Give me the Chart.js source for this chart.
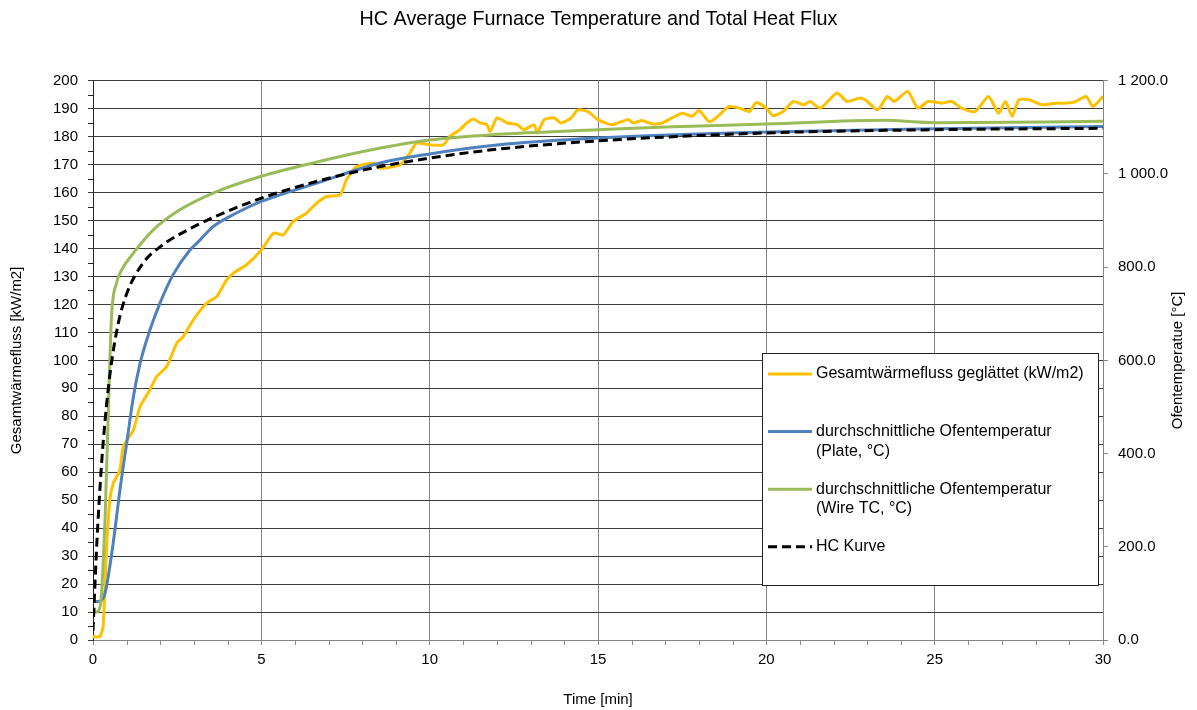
<!DOCTYPE html>
<html>
<head>
<meta charset="utf-8">
<title>HC Average Furnace Temperature and Total Heat Flux</title>
<script src="https://cdn.jsdelivr.net/npm/chart.js@4.4.1/dist/chart.umd.min.js"></script>
<style>
  html, body { margin: 0; padding: 0; background: #fff; }
  #wrap { width: 1197px; height: 710px; }
</style>
</head>
<body>
<div id="wrap"><canvas id="myChart" width="1197" height="710"></canvas></div>
<script>
// Total heat flux, smoothed (kW/m2) over time (min)
const fluxTime = [0, 0.2, 0.3, 0.4, 0.5, 0.6, 0.8, 0.9, 1.2, 1.4, 1.69, 1.89, 2.19, 2.49, 2.68, 2.98,
  3.38, 3.67, 3.97, 4.17, 4.56, 5.0, 5.36, 5.65, 5.95, 6.35, 6.64, 6.94, 7.34, 7.53, 7.83, 8.33,
  8.52, 9.12, 9.41, 9.61, 10.0, 10.4, 10.6, 10.9, 11.1, 11.3, 11.5, 11.7, 11.8, 12.0, 12.3, 12.6,
  12.8, 13.1, 13.2, 13.4, 13.7, 13.9, 14.2, 14.4, 14.7, 15.0, 15.4, 15.7, 15.9, 16.05, 16.3, 16.6,
  16.9, 17.2, 17.5, 17.8, 18.0, 18.3, 18.5, 18.9, 19.2, 19.5, 19.7, 20.0, 20.2, 20.5, 20.8, 21.1,
  21.3, 21.6, 22.1, 22.4, 22.8, 23.0, 23.3, 23.6, 23.8, 24.2, 24.5, 24.8, 25.2, 25.5, 25.8, 26.2,
  26.6, 26.9, 27.1, 27.3, 27.5, 27.8, 28.2, 28.6, 28.9, 29.2, 29.5, 29.7, 30.0];
const fluxValues = [1.2, 1.2, 4.8, 32.2, 50, 56, 60.8, 69.2, 75.1, 83.5, 89.4, 94.2, 97.8, 106.2, 108.5, 114.5,
  120.5, 122.8, 128.8, 131.2, 134.2, 139.5, 145.5, 144.9, 149.7, 152.7, 156.2, 158.6, 159.2, 164.6, 169.3, 170.5,
  168.7, 170.0, 174.1, 177.7, 177.1, 177.1, 180.1, 182.5, 184.9, 186.3, 184.9, 184.3, 181.9, 186.7, 184.9, 184.3,
  182.5, 184.3, 181.3, 186.1, 186.7, 184.9, 186.7, 189.6, 189.0, 186.1, 184.3, 185.4, 186.1, 184.9, 185.8, 184.6,
  184.9, 186.7, 188.4, 187.3, 189.4, 185.4, 186.7, 190.8, 190.2, 189.0, 192.2, 190.2, 187.5, 189.0, 192.6, 191.4,
  192.6, 190.2, 195.6, 192.6, 193.8, 192.6, 189.6, 194.4, 192.6, 196.2, 190.2, 192.6, 192.0, 192.6, 190.2, 189.0,
  194.4, 188.4, 192.6, 187.3, 193.2, 193.2, 191.4, 192.0, 192.0, 192.6, 194.4, 190.8, 194.4];

// Average furnace temperature, plate thermometers (°C)
const plateTime = [0, 0.2, 0.36, 0.6, 0.8, 1.0, 1.2, 1.4, 1.69, 1.99, 2.38, 2.88, 3.08, 3.57, 4.07, 4.56, 5.0, 5.55, 6.5, 8.5, 10, 12, 15, 20, 25, 30];
const plateTemp = [82, 83, 101, 208, 322, 422, 522, 594, 665, 723, 784, 837, 851, 887, 909, 927, 941, 955, 977, 1023, 1043, 1062, 1077, 1090, 1097, 1102];

// Average furnace temperature, wire thermocouples (°C)
const wireTime = [0, 0.1, 0.22, 0.3, 0.36, 0.45, 0.55, 0.7, 0.85, 1.2, 1.79, 2.58, 3.57, 5.0, 6.5, 8.5, 10, 12, 15, 17, 20, 23.5, 25, 30];
const wireTemp = [62, 60, 75, 160, 264, 479, 694, 766, 794, 830, 880, 923, 959, 995, 1023, 1055, 1073, 1085, 1095, 1101, 1107, 1115, 1110, 1113];

// Hydrocarbon (HC) standard curve (°C)
const hcTime = [0, 0.1, 0.2, 0.3, 0.5, 0.75, 1, 1.5, 2, 3, 4, 5, 6, 8, 10, 12, 15, 20, 25, 30];
const hcTemp = [20, 187, 318, 422, 568, 679, 743, 810, 844, 887, 920, 948, 971, 1008, 1034, 1053, 1071, 1088, 1095, 1098];

const legendLines = [
  ['Gesamtwärmefluss geglättet (kW/m2)'],
  ['durchschnittliche Ofentemperatur', '(Plate, °C)'],
  ['durchschnittliche Ofentemperatur', '(Wire TC, °C)'],
  ['HC Kurve']
];

const FONT = "'Liberation Sans', Arial, sans-serif";

function toPoints(xs, ys) {
  return xs.map((x, i) => ({ x: x, y: ys[i] }));
}

function fmtTemp(v) {
  const parts = Number(v).toFixed(1).split('.');
  return parts[0].replace(/\B(?=(\d{3})+(?!\d))/g, ' ') + '.' + parts[1];
}

// small tick marks between the labelled ones
const minorTicks = {
  id: 'minorTicks',
  afterDraw(chart) {
    const { ctx, scales: { x, y } } = chart;
    ctx.save();
    ctx.lineWidth = 1;
    ctx.strokeStyle = '#868686';
    ctx.beginPath();
    for (let v = 1; v < 30; v++) {
      if (v % 5 === 0) continue;
      const px = Math.round(x.getPixelForValue(v)) + 0.5;
      ctx.moveTo(px, x.top);
      ctx.lineTo(px, x.top + 5);
    }
    ctx.stroke();
    ctx.strokeStyle = '#222';
    ctx.beginPath();
    for (let v = 5; v < 200; v += 10) {
      const py = Math.round(y.getPixelForValue(v)) + 0.5;
      ctx.moveTo(y.right - 5, py);
      ctx.lineTo(y.right, py);
    }
    ctx.stroke();
    ctx.restore();
  }
};

// right axis title reads bottom-to-top like the left one
const rightTitle = {
  id: 'rightTitle',
  afterDraw(chart) {
    const { ctx, chartArea } = chart;
    ctx.save();
    ctx.font = '15px ' + FONT;
    ctx.fillStyle = '#000';
    ctx.textAlign = 'center';
    ctx.textBaseline = 'middle';
    ctx.translate(1178, (chartArea.top + chartArea.bottom) / 2);
    ctx.rotate(-Math.PI / 2);
    ctx.fillText('Ofentemperatue [°C]', 0, 0);
    ctx.restore();
  }
};

// boxed legend inside the plot area
const boxLegend = {
  id: 'boxLegend',
  afterDraw(chart) {
    const { ctx } = chart;
    const left = 762, top = 353, w = 336, h = 232;
    ctx.save();
    ctx.fillStyle = '#fff';
    ctx.fillRect(left, top, w, h);
    ctx.strokeStyle = '#222';
    ctx.lineWidth = 1;
    ctx.strokeRect(left + 0.5, top + 0.5, w, h);
    ctx.font = '16px ' + FONT;
    ctx.textBaseline = 'middle';
    ctx.textAlign = 'left';
    chart.data.datasets.forEach((ds, i) => {
      const rowY = 374 + i * 57.6;
      ctx.beginPath();
      ctx.strokeStyle = ds.borderColor;
      ctx.lineWidth = 3;
      ctx.setLineDash(ds.borderDash || []);
      ctx.moveTo(768, rowY);
      ctx.lineTo(812, rowY);
      ctx.stroke();
      ctx.setLineDash([]);
      ctx.fillStyle = '#000';
      legendLines[i].forEach((line, j) => {
        ctx.fillText(line, 816, rowY + j * 19.5);
      });
    });
    ctx.restore();
  }
};

const ctx = document.getElementById('myChart');
const myChart = new Chart(ctx, {
  type: 'line',
  data: {
    datasets: [
      {
        label: legendLines[0].join(' '),
        data: toPoints(fluxTime, fluxValues),
        borderColor: '#FFC000',
        borderWidth: 3,
        pointRadius: 0,
        tension: 0.2,
        yAxisID: 'y',
        order: 3
      },
      {
        label: legendLines[1].join(' '),
        data: toPoints(plateTime, plateTemp),
        borderColor: '#4F81BD',
        borderWidth: 3,
        pointRadius: 0,
        cubicInterpolationMode: 'monotone',
        yAxisID: 'y2',
        order: 2
      },
      {
        label: legendLines[2].join(' '),
        data: toPoints(wireTime, wireTemp),
        borderColor: '#9BBB59',
        borderWidth: 3,
        pointRadius: 0,
        cubicInterpolationMode: 'monotone',
        yAxisID: 'y2',
        order: 1
      },
      {
        label: legendLines[3].join(' '),
        data: toPoints(hcTime, hcTemp),
        borderColor: '#000000',
        borderWidth: 3,
        borderDash: [9, 5],
        pointRadius: 0,
        cubicInterpolationMode: 'monotone',
        yAxisID: 'y2',
        order: 0
      }
    ]
  },
  options: {
    responsive: false,
    animation: false,
    devicePixelRatio: 1,
    layout: { padding: 0 },
    plugins: {
      legend: { display: false },
      tooltip: { enabled: false },
      title: {
        display: true,
        text: 'HC Average Furnace Temperature and Total Heat Flux',
        color: '#000',
        font: { family: FONT, size: 19.8, weight: 'normal', lineHeight: 1.2 },
        padding: { top: 8, bottom: 49 }
      }
    },
    scales: {
      x: {
        type: 'linear',
        min: 0,
        max: 30,
        ticks: { stepSize: 5, color: '#000', padding: 6, font: { family: FONT, size: 15 } },
        grid: { color: '#868686', tickLength: 5 },
        border: { color: '#868686' },
        title: {
          display: true,
          text: 'Time [min]',
          color: '#000',
          font: { family: FONT, size: 15, lineHeight: 1.2 },
          padding: { top: 0, bottom: 1 }
        },
        afterFit(scale) { scale.height = 70; }
      },
      y: {
        position: 'left',
        min: 0,
        max: 200,
        ticks: { stepSize: 10, color: '#000', padding: 10, font: { family: FONT, size: 15 } },
        grid: { color: '#3c3c3c', tickLength: 5 },
        border: { color: '#222' },
        title: {
          display: true,
          text: 'Gesamtwärmefluss [kW/m2]',
          color: '#000',
          font: { family: FONT, size: 15, lineHeight: 1.2 },
          padding: { top: 8, bottom: 0 }
        },
        afterFit(scale) { scale.width = 93; }
      },
      y2: {
        position: 'right',
        min: 0,
        max: 1200,
        ticks: { stepSize: 200, color: '#000', padding: 10, font: { family: FONT, size: 15 }, callback: fmtTemp },
        grid: { drawOnChartArea: false, color: '#868686', tickLength: 5 },
        border: { color: '#868686' },
        afterFit(scale) { scale.width = 94; }
      }
    }
  },
  plugins: [minorTicks, rightTitle, boxLegend]
});
</script>
</body>
</html>
